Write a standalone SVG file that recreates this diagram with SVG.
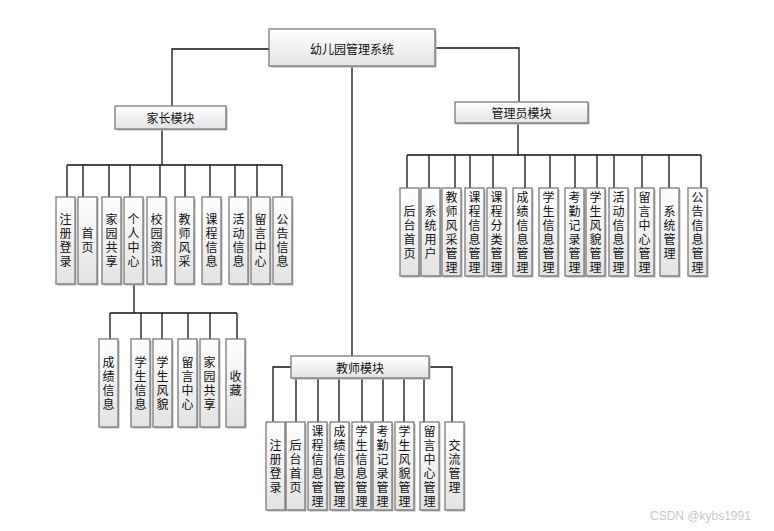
<svg xmlns="http://www.w3.org/2000/svg" width="774" height="531" viewBox="0 0 774 531">
<defs>
<linearGradient id="g" x1="0" y1="0" x2="0" y2="1">
<stop offset="0" stop-color="#ffffff"/>
<stop offset="1" stop-color="#e3e3e3"/>
</linearGradient>
<style>
.box{fill:url(#g);stroke:#7a7a7a;stroke-width:1.3}
.sh{fill:#b5b5b5}
.t{font-family:"Noto Sans CJK SC","Liberation Sans",sans-serif;font-size:12px;fill:#111;text-anchor:middle;dominant-baseline:central}
.v{font-family:"Noto Sans CJK SC","Liberation Sans",sans-serif;font-size:12px;fill:#111;text-anchor:middle;writing-mode:vertical-rl;letter-spacing:2px}
.ln{stroke:#111;stroke-width:1.3;fill:none}
.wm{font-family:"Liberation Sans","DejaVu Sans",sans-serif;font-size:12px;fill:#c8c8c8}
</style>
</defs>
<rect width="774" height="531" fill="#fff"/>
<g id="connectors">
<path class="ln" d="M269 49H172V106M435 48H519V102M352 66V356"/>
<path class="ln" d="M162 129V165M67 165H282M67 165V197M83 165V197M109 165V197M130 165V197M160 165V197M185 165V197M210 165V197M235 165V197M257 165V197M282 165V197"/>
<path class="ln" d="M134 284V313M110 313H237M110 313V339M141 313V339M162 313V339M188 313V339M210 313V339M237 313V339"/>
<path class="ln" d="M518 123V155M407 155H701M407 155V188M429 155V188M455 155V188M470 155V188M493 155V188M525 155V188M550 155V188M575 155V188M597 155V188M614 155V188M642 155V188M669 155V188M701 155V188"/>
<path class="ln" d="M291 367H273V422M429 367H452V422M296 378V422M318 378V422M339 378V422M362 378V422M383 378V422M404 378V422M424 378V422" stroke="#333"/>
</g>
<g id="root"><rect class="sh" x="270.5" y="30.5" width="166" height="37"/><rect class="box" x="269" y="29" width="166" height="37"/><text class="t" x="352" y="48">幼儿园管理系统</text></g>
<g id="parent"><rect class="sh" x="116.5" y="107.5" width="111" height="23"/><rect class="box" x="115" y="106" width="111" height="23"/><text class="t" x="170.5" y="117.5">家长模块</text></g>
<g id="admin"><rect class="sh" x="456.5" y="103.5" width="133" height="21"/><rect class="box" x="455" y="102" width="133" height="21"/><text class="t" x="521.5" y="112.5">管理员模块</text></g>
<g id="teacher"><rect class="sh" x="292.5" y="357.5" width="138" height="22"/><rect class="box" x="291" y="356" width="138" height="22"/><text class="t" x="360" y="367">教师模块</text></g>

<g id="p1"><rect class="sh" x="57.5" y="198.5" width="19" height="87"/><rect class="box" x="56" y="197" width="19" height="87"/><text class="v" x="65.5" y="241.5">注册登录</text></g>
<g id="p2"><rect class="sh" x="79.5" y="198.5" width="19" height="87"/><rect class="box" x="78" y="197" width="19" height="87"/><text class="v" x="87.5" y="241.5">首页</text></g>
<g id="p3"><rect class="sh" x="103.5" y="198.5" width="19" height="87"/><rect class="box" x="102" y="197" width="19" height="87"/><text class="v" x="111.5" y="241.5">家园共享</text></g>
<g id="p4"><rect class="sh" x="125.5" y="198.5" width="19" height="87"/><rect class="box" x="124" y="197" width="19" height="87"/><text class="v" x="133.5" y="241.5">个人中心</text></g>
<g id="p5"><rect class="sh" x="148.5" y="198.5" width="19" height="87"/><rect class="box" x="147" y="197" width="19" height="87"/><text class="v" x="156.5" y="241.5">校园资讯</text></g>
<g id="p6"><rect class="sh" x="176.5" y="198.5" width="19" height="87"/><rect class="box" x="175" y="197" width="19" height="87"/><text class="v" x="184.5" y="241.5">教师风采</text></g>
<g id="p7"><rect class="sh" x="203.5" y="198.5" width="19" height="87"/><rect class="box" x="202" y="197" width="19" height="87"/><text class="v" x="211.5" y="241.5">课程信息</text></g>
<g id="p8"><rect class="sh" x="230.5" y="198.5" width="19" height="87"/><rect class="box" x="229" y="197" width="19" height="87"/><text class="v" x="238.5" y="241.5">活动信息</text></g>
<g id="p9"><rect class="sh" x="252.5" y="198.5" width="19" height="87"/><rect class="box" x="251" y="197" width="19" height="87"/><text class="v" x="260.5" y="241.5">留言中心</text></g>
<g id="p10"><rect class="sh" x="274.5" y="198.5" width="19" height="87"/><rect class="box" x="273" y="197" width="19" height="87"/><text class="v" x="282.5" y="241.5">公告信息</text></g>

<g id="c1"><rect class="sh" x="100.5" y="340.5" width="19" height="88"/><rect class="box" x="99" y="339" width="19" height="88"/><text class="v" x="108.5" y="384">成绩信息</text></g>
<g id="c2"><rect class="sh" x="132.5" y="340.5" width="19" height="88"/><rect class="box" x="131" y="339" width="19" height="88"/><text class="v" x="140.5" y="384">学生信息</text></g>
<g id="c3"><rect class="sh" x="154.5" y="340.5" width="19" height="88"/><rect class="box" x="153" y="339" width="19" height="88"/><text class="v" x="162.5" y="384">学生风貌</text></g>
<g id="c4"><rect class="sh" x="179.5" y="340.5" width="19" height="88"/><rect class="box" x="178" y="339" width="19" height="88"/><text class="v" x="187.5" y="384">留言中心</text></g>
<g id="c5"><rect class="sh" x="201.5" y="340.5" width="19" height="88"/><rect class="box" x="200" y="339" width="19" height="88"/><text class="v" x="209.5" y="384">家园共享</text></g>
<g id="c6"><rect class="sh" x="227.5" y="340.5" width="19" height="88"/><rect class="box" x="226" y="339" width="19" height="88"/><text class="v" x="235.5" y="384">收藏</text></g>

<g id="a1"><rect class="sh" x="401.5" y="189.5" width="19" height="88"/><rect class="box" x="400" y="188" width="19" height="88"/><text class="v" x="409.5" y="233">后台首页</text></g>
<g id="a2"><rect class="sh" x="422.5" y="189.5" width="19" height="88"/><rect class="box" x="421" y="188" width="19" height="88"/><text class="v" x="430.5" y="233">系统用户</text></g>
<g id="a3"><rect class="sh" x="443.5" y="189.5" width="19" height="88"/><rect class="box" x="442" y="188" width="19" height="88"/><text class="v" x="451.5" y="233">教师风采管理</text></g>
<g id="a4"><rect class="sh" x="466.5" y="189.5" width="19" height="88"/><rect class="box" x="465" y="188" width="19" height="88"/><text class="v" x="474.5" y="233">课程信息管理</text></g>
<g id="a5"><rect class="sh" x="488.5" y="189.5" width="19" height="88"/><rect class="box" x="487" y="188" width="19" height="88"/><text class="v" x="496.5" y="233">课程分类管理</text></g>
<g id="a6"><rect class="sh" x="514.5" y="189.5" width="19" height="88"/><rect class="box" x="513" y="188" width="19" height="88"/><text class="v" x="522.5" y="233">成绩信息管理</text></g>
<g id="a7"><rect class="sh" x="540.5" y="189.5" width="19" height="88"/><rect class="box" x="539" y="188" width="19" height="88"/><text class="v" x="548.5" y="233">学生信息管理</text></g>
<g id="a8"><rect class="sh" x="566.5" y="189.5" width="19" height="88"/><rect class="box" x="565" y="188" width="19" height="88"/><text class="v" x="574.5" y="233">考勤记录管理</text></g>
<g id="a9"><rect class="sh" x="587.5" y="189.5" width="19" height="88"/><rect class="box" x="586" y="188" width="19" height="88"/><text class="v" x="595.5" y="233">学生风貌管理</text></g>
<g id="a10"><rect class="sh" x="610.5" y="189.5" width="19" height="88"/><rect class="box" x="609" y="188" width="19" height="88"/><text class="v" x="618.5" y="233">活动信息管理</text></g>
<g id="a11"><rect class="sh" x="636.5" y="189.5" width="19" height="88"/><rect class="box" x="635" y="188" width="19" height="88"/><text class="v" x="644.5" y="233">留言中心管理</text></g>
<g id="a12"><rect class="sh" x="661.5" y="189.5" width="19" height="88"/><rect class="box" x="660" y="188" width="19" height="88"/><text class="v" x="669.5" y="233">系统管理</text></g>
<g id="a13"><rect class="sh" x="689.5" y="189.5" width="19" height="88"/><rect class="box" x="688" y="188" width="19" height="88"/><text class="v" x="697.5" y="233">公告信息管理</text></g>

<g id="t1"><rect class="sh" x="267.5" y="423.5" width="19" height="88"/><rect class="box" x="266" y="422" width="19" height="88"/><text class="v" x="275.5" y="467">注册登录</text></g>
<g id="t2"><rect class="sh" x="287.5" y="423.5" width="19" height="88"/><rect class="box" x="286" y="422" width="19" height="88"/><text class="v" x="295.5" y="467">后台首页</text></g>
<g id="t3"><rect class="sh" x="309.5" y="423.5" width="19" height="88"/><rect class="box" x="308" y="422" width="19" height="88"/><text class="v" x="317.5" y="467">课程信息管理</text></g>
<g id="t4"><rect class="sh" x="331.5" y="423.5" width="19" height="88"/><rect class="box" x="330" y="422" width="19" height="88"/><text class="v" x="339.5" y="467">成绩信息管理</text></g>
<g id="t5"><rect class="sh" x="353.5" y="423.5" width="19" height="88"/><rect class="box" x="352" y="422" width="19" height="88"/><text class="v" x="361.5" y="467">学生信息管理</text></g>
<g id="t6"><rect class="sh" x="374.5" y="423.5" width="19" height="88"/><rect class="box" x="373" y="422" width="19" height="88"/><text class="v" x="382.5" y="467">考勤记录管理</text></g>
<g id="t7"><rect class="sh" x="396.5" y="423.5" width="19" height="88"/><rect class="box" x="395" y="422" width="19" height="88"/><text class="v" x="404.5" y="467">学生风貌管理</text></g>
<g id="t8"><rect class="sh" x="421.5" y="423.5" width="19" height="88"/><rect class="box" x="420" y="422" width="19" height="88"/><text class="v" x="429.5" y="467">留言中心管理</text></g>
<g id="t9"><rect class="sh" x="446.5" y="423.5" width="19" height="88"/><rect class="box" x="445" y="422" width="19" height="88"/><text class="v" x="454.5" y="467">交流管理</text></g>

<text class="wm" x="650" y="520">CSDN @kybs1991</text>
</svg>
